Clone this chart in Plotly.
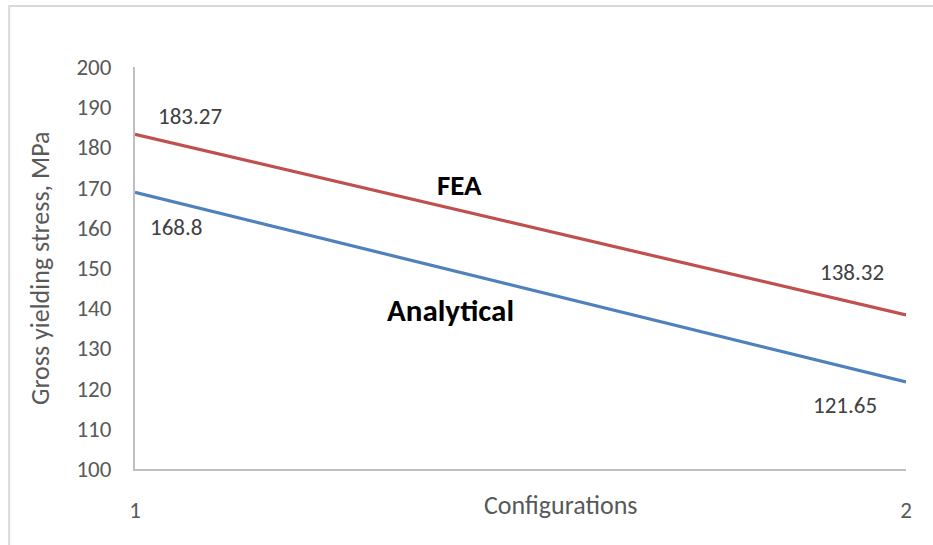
import plotly.graph_objects as go

configs = [1, 2]
fea = [183.27, 138.32]
analytical = [168.8, 121.65]
y_ticks = [100, 110, 120, 130, 140, 150, 160, 170, 180, 190, 200]

FONT = "Carlito, Lato, 'Open Sans', sans-serif"
GREY = "#595959"
LABEL = "#404040"

fig = go.Figure()
fig.add_trace(go.Scatter(x=configs, y=fea, mode="lines", name="FEA",
                         line=dict(color="#C0504D", width=3.2)))
fig.add_trace(go.Scatter(x=configs, y=analytical, mode="lines", name="Analytical",
                         line=dict(color="#4F81BD", width=3.2)))

# value labels at the line ends
lab_font = dict(size=23, color=LABEL, family=FONT)
fig.add_annotation(x=configs[0], y=fea[0], text=f"{fea[0]:.2f}", xshift=55, yshift=18,
                   showarrow=False, font=lab_font)
fig.add_annotation(x=configs[0], y=analytical[0], text=f"{analytical[0]:g}", xshift=41, yshift=-35,
                   showarrow=False, font=lab_font)
fig.add_annotation(x=configs[1], y=fea[1], text=f"{fea[1]:.2f}", xshift=-54, yshift=43,
                   showarrow=False, font=lab_font)
fig.add_annotation(x=configs[1], y=analytical[1], text=f"{analytical[1]:.2f}", xshift=-61, yshift=-23,
                   showarrow=False, font=lab_font)

# series names
fig.add_annotation(x=1.4215, y=170.6, text="<b>FEA</b>", showarrow=False,
                   font=dict(size=29, color="black", family=FONT))
fig.add_annotation(x=1.4086, y=139.6, text="<b>Analytical</b>", showarrow=False,
                   font=dict(size=31, color="black", family=FONT))

# axis titles
fig.add_annotation(xref="paper", yref="paper", x=0.553, y=-0.0896, yanchor="middle",
                   text="Configurations", showarrow=False,
                   font=dict(size=26, color=GREY, family=FONT))
fig.add_annotation(xref="paper", yref="paper", x=-0.1232, y=0.5, xanchor="center",
                   yanchor="middle", textangle=-90, text="Gross yielding stress, MPa",
                   showarrow=False, font=dict(size=26, color=GREY, family=FONT))

# outer chart border
fig.add_shape(type="rect", xref="paper", yref="paper", x0=-0.1632, x1=1.1, y0=-0.2, y1=1.1517,
              line=dict(color="#D9D9D9", width=2), layer="below")

fig.update_layout(
    width=933, height=545,
    margin=dict(l=135, r=27, t=67, b=76),
    paper_bgcolor="white", plot_bgcolor="white",
    showlegend=False,
    font=dict(family=FONT, color=GREY),
)
fig.update_xaxes(range=[1, 2], tickvals=configs, ticktext=[str(c) for c in configs],
                 showline=True, linecolor="#BFBFBF", linewidth=2, showgrid=False,
                 zeroline=False, ticks="", ticklabelstandoff=19,
                 tickfont=dict(size=23, color=GREY, family=FONT))
fig.update_yaxes(range=[100, 200], tickvals=y_ticks,
                 showline=True, linecolor="#BFBFBF", linewidth=2, showgrid=False,
                 zeroline=False, ticks="", ticklabelstandoff=17,
                 tickfont=dict(size=23, color=GREY, family=FONT))

fig.write_html("out.html")
